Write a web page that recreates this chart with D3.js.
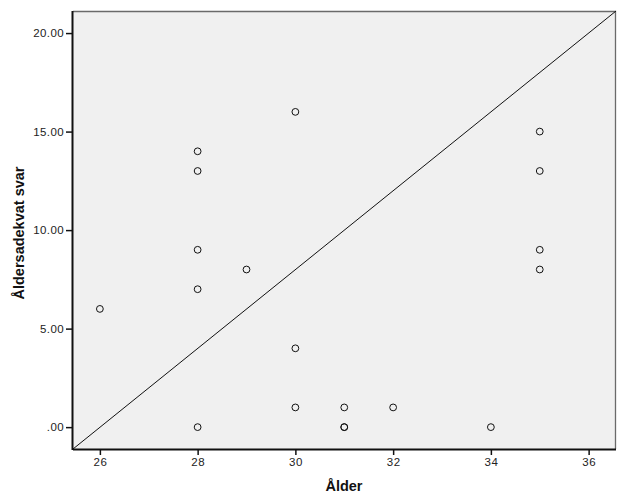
<!DOCTYPE html>
<html><head><meta charset="utf-8">
<script src="https://cdn.jsdelivr.net/npm/d3@7"></script>
<style>
html,body{margin:0;padding:0;background:#fff;}
svg{display:block;}
.tick text{font-family:"Liberation Sans",Arial,sans-serif;font-size:11.5px;fill:#222;letter-spacing:0.4px;}
.title{font-family:"Liberation Sans",Arial,sans-serif;font-weight:bold;font-size:14.5px;fill:#111;}
</style></head>
<body>
<svg id="chart" width="644" height="501"></svg>
<script>
const ages =   [26, 28, 28, 28, 28, 28, 29, 30, 30, 30, 31, 31, 31, 32, 34, 35, 35, 35, 35];
const scores = [ 6, 14, 13,  9,  7,  0,  8, 16,  4,  1,  1,  0,  0,  1,  0, 15, 13,  9,  8];
const xTicks = [26, 28, 30, 32, 34, 36];
const yTicks = [0, 5, 10, 15, 20];
const xDomain = [25.45, 36.56];
const yDomain = [-1.11, 21.12];
const xTitle = "Ålder";
const yTitle = "Åldersadekvat svar";

const svg = d3.select("#chart");
const m = {left:73, top:11, right:616, bottom:449};
const x = d3.scaleLinear().domain(xDomain).range([m.left, m.right]);
const y = d3.scaleLinear().domain(yDomain).range([m.bottom, m.top]);

svg.append("rect").attr("x", m.left).attr("y", m.top)
  .attr("width", m.right - m.left).attr("height", m.bottom - m.top)
  .attr("fill", "#f0f0f0");
// top and right frame
svg.append("path").attr("d", `M${m.left},${m.top+0.5}H${m.right-0.5}V${m.bottom}`)
  .attr("fill","none").attr("stroke","#6a6a6a").attr("stroke-width",1.3);

// diagonal reference line
svg.append("line")
  .attr("x1", x(xDomain[0])).attr("y1", y(yDomain[0]))
  .attr("x2", x(xDomain[1])).attr("y2", y(yDomain[1]))
  .attr("stroke","#111").attr("stroke-width",1);

// points
svg.append("g").selectAll("circle").data(ages.map((a,i)=>({a, s:scores[i]})))
  .join("circle")
  .attr("cx", d => x(d.a)).attr("cy", d => y(d.s)).attr("r", 3.4)
  .attr("fill","none").attr("stroke","#111").attr("stroke-width",1);

// axes
const xAxis = d3.axisBottom(x).tickValues(xTicks).tickSize(6).tickPadding(3).tickFormat(d3.format("d"));
const gx = svg.append("g").attr("transform", `translate(0,${m.bottom})`).call(xAxis);
gx.select(".domain").attr("d", `M${m.left},0.5H${m.right}`).attr("stroke","#111").attr("stroke-width",2);
gx.selectAll(".tick line").attr("stroke","#111").attr("stroke-width",1.5);

const yFmt = d => d === 0 ? ".00" : d3.format(".2f")(d);
const yAxis = d3.axisLeft(y).tickValues(yTicks).tickSize(7).tickPadding(2).tickFormat(yFmt);
const gy = svg.append("g").attr("transform", `translate(${m.left},0)`).call(yAxis);
gy.select(".domain").attr("d", `M-0.5,${m.top}V${m.bottom+1}`).attr("stroke","#111").attr("stroke-width",2);
gy.selectAll(".tick line").attr("stroke","#111").attr("stroke-width",1.5);

// titles
svg.append("text").attr("class","title").attr("x", 344).attr("y", 491)
  .attr("text-anchor","middle").text(xTitle);
svg.append("text").attr("class","title")
  .attr("transform","translate(24,233) rotate(-90)")
  .attr("text-anchor","middle").text(yTitle);
</script>
</body></html>
